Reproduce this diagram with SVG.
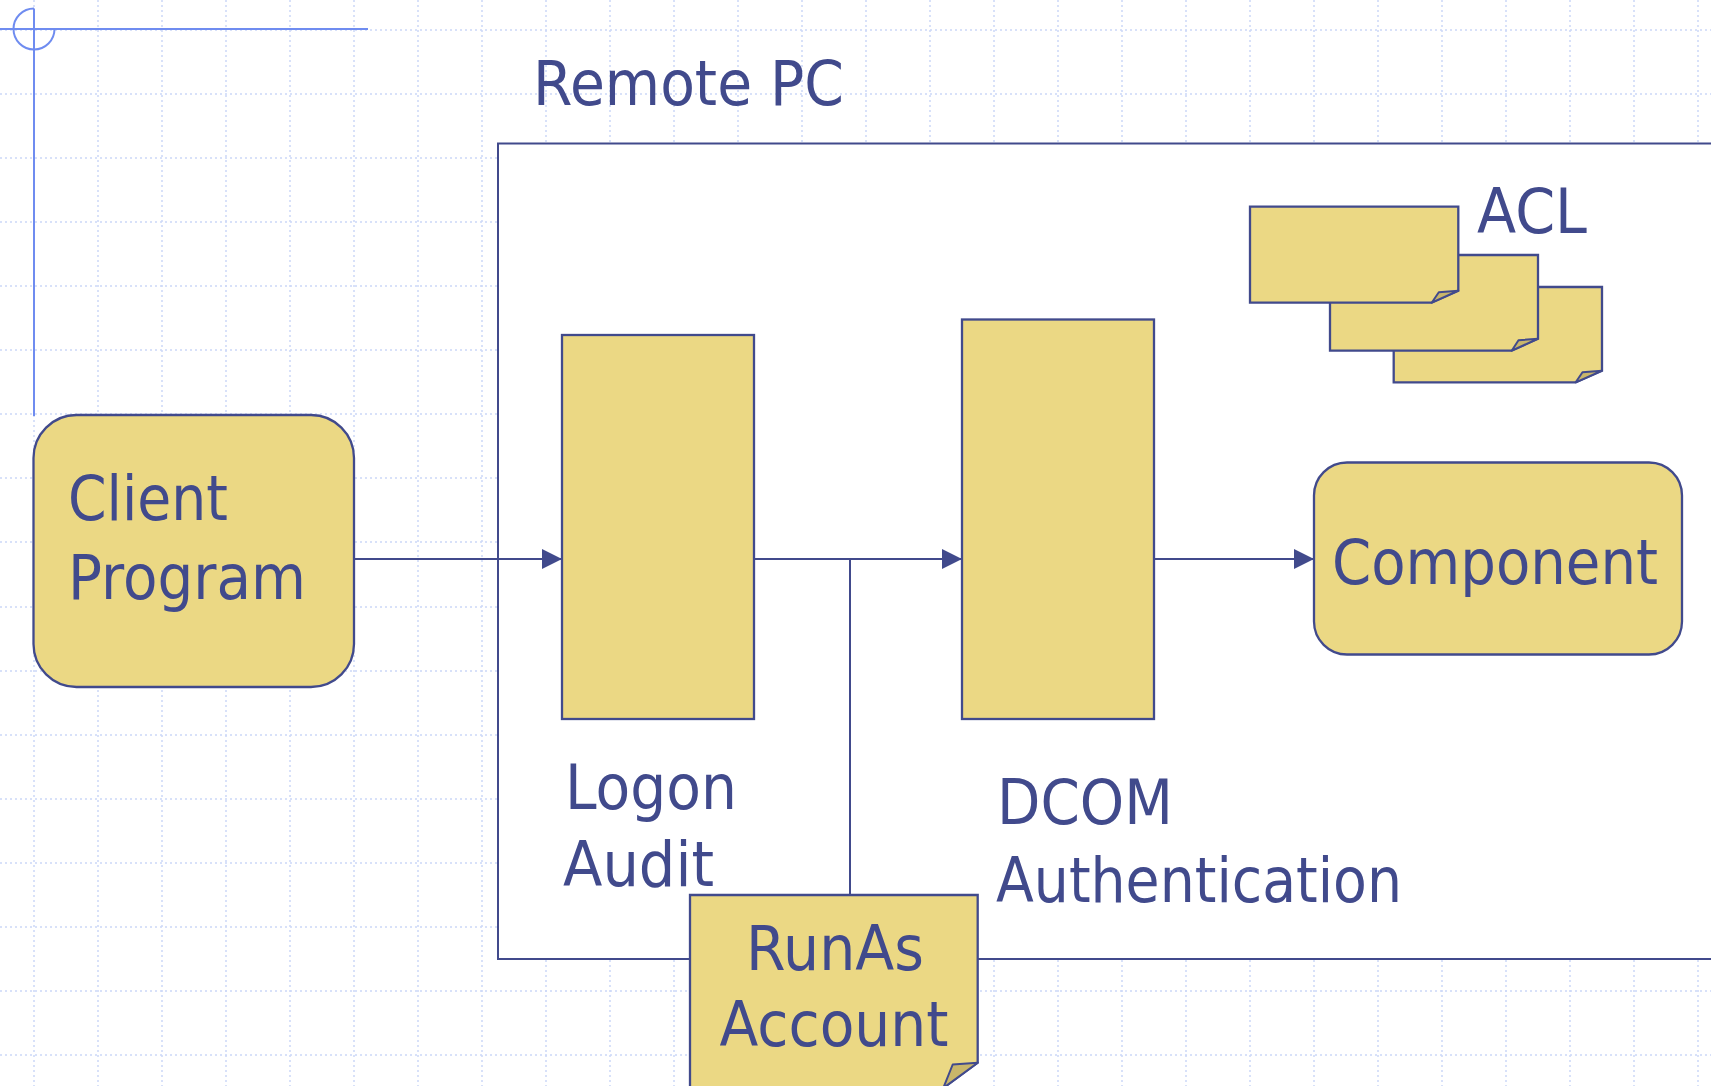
<svg xmlns="http://www.w3.org/2000/svg" width="1711" height="1086" viewBox="0 0 1711 1086">
<defs>
<style>
.grid line{stroke:#cbd8f8;stroke-width:1.5;stroke-dasharray:2 3}
.ruler{stroke:#6f8cf0;stroke-width:2;fill:none}
.box{fill:#ebd884;stroke:#414a8c;stroke-width:2.3}
.fold{fill:#c9b66a;stroke:#414a8c;stroke-width:2;stroke-linejoin:round}
.frame{fill:#ffffff;stroke:#414a8c;stroke-width:2}
.conn{stroke:#414a8c;stroke-width:2;fill:none}
.t{font-family:"DejaVu Sans","Liberation Sans",sans-serif;font-size:63px;fill:#414a8c}
</style>
<marker id="arr" markerUnits="userSpaceOnUse" markerWidth="22" markerHeight="22" refX="20" refY="10" orient="auto">
<path d="M0,0 L20,10 L0,20 Z" fill="#414a8c"/>
</marker>
</defs>
<rect width="1711" height="1086" fill="#ffffff"/>
<g class="grid">
<line x1="0" y1="30" x2="1711" y2="30"/><line x1="0" y1="94" x2="1711" y2="94"/><line x1="0" y1="158" x2="1711" y2="158"/><line x1="0" y1="222" x2="1711" y2="222"/><line x1="0" y1="286" x2="1711" y2="286"/><line x1="0" y1="350" x2="1711" y2="350"/><line x1="0" y1="414" x2="1711" y2="414"/><line x1="0" y1="478" x2="1711" y2="478"/><line x1="0" y1="542" x2="1711" y2="542"/><line x1="0" y1="607" x2="1711" y2="607"/><line x1="0" y1="671" x2="1711" y2="671"/><line x1="0" y1="735" x2="1711" y2="735"/><line x1="0" y1="799" x2="1711" y2="799"/><line x1="0" y1="863" x2="1711" y2="863"/><line x1="0" y1="927" x2="1711" y2="927"/><line x1="0" y1="991" x2="1711" y2="991"/><line x1="0" y1="1055" x2="1711" y2="1055"/>
<line x1="34" y1="0" x2="34" y2="1086"/><line x1="98" y1="0" x2="98" y2="1086"/><line x1="162" y1="0" x2="162" y2="1086"/><line x1="226" y1="0" x2="226" y2="1086"/><line x1="290" y1="0" x2="290" y2="1086"/><line x1="354" y1="0" x2="354" y2="1086"/><line x1="418" y1="0" x2="418" y2="1086"/><line x1="482" y1="0" x2="482" y2="1086"/><line x1="546" y1="0" x2="546" y2="1086"/><line x1="610" y1="0" x2="610" y2="1086"/><line x1="674" y1="0" x2="674" y2="1086"/><line x1="738" y1="0" x2="738" y2="1086"/><line x1="802" y1="0" x2="802" y2="1086"/><line x1="866" y1="0" x2="866" y2="1086"/><line x1="930" y1="0" x2="930" y2="1086"/><line x1="994" y1="0" x2="994" y2="1086"/><line x1="1058" y1="0" x2="1058" y2="1086"/><line x1="1122" y1="0" x2="1122" y2="1086"/><line x1="1186" y1="0" x2="1186" y2="1086"/><line x1="1250" y1="0" x2="1250" y2="1086"/><line x1="1314" y1="0" x2="1314" y2="1086"/><line x1="1378" y1="0" x2="1378" y2="1086"/><line x1="1442" y1="0" x2="1442" y2="1086"/><line x1="1506" y1="0" x2="1506" y2="1086"/><line x1="1570" y1="0" x2="1570" y2="1086"/><line x1="1634" y1="0" x2="1634" y2="1086"/><line x1="1698" y1="0" x2="1698" y2="1086"/>
</g>
<g id="ruler">
<line class="ruler" x1="0" y1="29" x2="368" y2="29"/>
<line class="ruler" x1="34" y1="8.5" x2="34" y2="416"/>
<path class="ruler" d="M34,8.5 A20.5,20.5 0 1 0 54.5,29"/>
</g>
<g id="remote-pc">
<rect class="frame" x="498" y="143.5" width="1230" height="815.5"/>
<text class="t" x="533" y="105" textLength="311" lengthAdjust="spacingAndGlyphs">Remote PC</text>
</g>
<g id="connectors">
<line class="conn" x1="354" y1="559" x2="562" y2="559" marker-end="url(#arr)"/>
<line class="conn" x1="754" y1="559" x2="962" y2="559" marker-end="url(#arr)"/>
<line class="conn" x1="1154" y1="559" x2="1314" y2="559" marker-end="url(#arr)"/>
<line class="conn" x1="850" y1="559" x2="850" y2="895"/>
</g>
<g id="client-program">
<rect class="box" x="33.5" y="415" width="320.5" height="272" rx="43" ry="43"/>
<text class="t" x="68" y="520" textLength="160" lengthAdjust="spacingAndGlyphs">Client</text>
<text class="t" x="68" y="599" textLength="238" lengthAdjust="spacingAndGlyphs">Program</text>
</g>
<g id="logon-audit">
<rect class="box" x="562" y="335" width="192" height="384"/>
<text class="t" x="565" y="809" textLength="172" lengthAdjust="spacingAndGlyphs">Logon</text>
<text class="t" x="563" y="886" textLength="151" lengthAdjust="spacingAndGlyphs">Audit</text>
</g>
<g id="dcom-authentication">
<rect class="box" x="962" y="319.5" width="192" height="399.5"/>
<text class="t" x="997" y="824" textLength="176" lengthAdjust="spacingAndGlyphs">DCOM</text>
<text class="t" x="996" y="902" textLength="406" lengthAdjust="spacingAndGlyphs">Authentication</text>
</g>
<g id="component">
<rect class="box" x="1314" y="462.5" width="368" height="192" rx="33" ry="33"/>
<text class="t" x="1332" y="584" textLength="326" lengthAdjust="spacingAndGlyphs">Component</text>
</g>
<g id="acl">
<path class="box" d="M1393.7,287 H1602 V370.7 L1575.7,382.3 H1393.7 Z"/>
<path class="fold" d="M1602,370.7 L1582.5,372.3 L1575.7,382.3 Z"/>
<path class="box" d="M1330,255 H1538 V338.7 L1511.7,350.7 H1330 Z"/>
<path class="fold" d="M1538,338.7 L1518.5,340.3 L1511.7,350.7 Z"/>
<path class="box" d="M1250,206.7 H1458.3 V290.7 L1431.7,302.7 H1250 Z"/>
<path class="fold" d="M1458.3,290.7 L1438.8,292.3 L1431.7,302.7 Z"/>
<text class="t" x="1477" y="233" textLength="110" lengthAdjust="spacingAndGlyphs">ACL</text>
</g>
<g id="runas-account">
<path class="box" d="M690,895 H977.7 V1062.7 L943.3,1088 H690 Z"/>
<path class="fold" d="M977.7,1062.7 L952.7,1064.5 L943.3,1088 Z"/>
<text class="t" x="835" y="970" text-anchor="middle" textLength="178" lengthAdjust="spacingAndGlyphs">RunAs</text>
<text class="t" x="834" y="1046" text-anchor="middle" textLength="229" lengthAdjust="spacingAndGlyphs">Account</text>
</g>
</svg>
